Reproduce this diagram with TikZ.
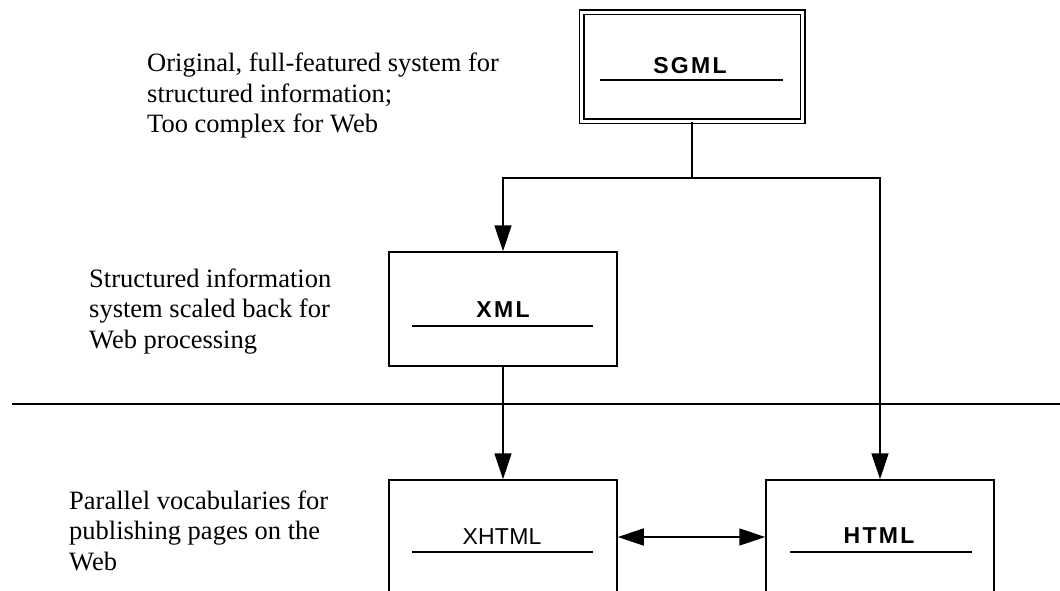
\documentclass[tikz,border=0pt]{standalone}
\usepackage{fontspec}
\setmainfont{Liberation Serif}
\newfontfamily\labelfont{Liberation Sans}
\usetikzlibrary{arrows.meta}

\tikzset{
  px/.style={x=1pt,y=-1pt},
  box/.style={draw, line width=1.5pt, minimum width=228pt, minimum height=114pt, inner sep=0pt},
  dbox/.style={draw, double, double distance=3pt, line width=1.5pt, minimum width=221pt, minimum height=109pt, inner sep=0pt},
  boldtitle/.style={font=\labelfont\fontsize{23}{25}\selectfont\bfseries\addfontfeatures{LetterSpace=10}, inner sep=0pt},
  plaintitle/.style={font=\labelfont\fontsize{23}{25}\selectfont\addfontfeatures{LetterSpace=1}, inner sep=0pt},
  notetext/.style={font=\fontsize{26.5}{30.5}\selectfont, align=left, anchor=base west, inner sep=0pt},
  underline/.style={line width=1.5pt},
  link/.style={line width=1.5pt},
  tip/.style={Triangle[length=26pt,width=17pt]},
  arr/.style={line width=1.5pt, -{Triangle[length=26pt,width=17pt]}},
  darr/.style={line width=1.5pt, {Triangle[length=26pt,width=17pt]}-{Triangle[length=26pt,width=17pt]}}
}

\begin{document}
\begin{tikzpicture}[px]
\clip (0,0) rectangle (1060,591);
\fill[white] (0,0) rectangle (1060,591);

% boxes
\node[dbox] (sgml) at (692,67) {};
\node[box] (xml) at (503,309) {};
\node[box] (xhtml) at (503,537) {};
\node[box] (html) at (880,537) {};

% box titles with their underlines
\node[boldtitle] (sgmlt) at (690,66) {SGML};
\draw[underline] (600,80) -- (783,80);
\node[boldtitle] (xmlt) at (503,310) {XML};
\draw[underline] (412,326) -- (593,326);
\node[plaintitle] (xhtmlt) at (502,537) {XHTML};
\draw[underline] (412,552) -- (593,552);
\node[boldtitle] (htmlt) at (879,536) {HTML};
\draw[underline] (790,552) -- (972,552);

% separator
\draw[underline] (12,404) -- (1060,404);

% connectors
\coordinate (split) at (692,178);
\draw[link] (sgml.south) -- (split);
\draw[arr] (split) -| (xml.north);
\draw[arr] (split) -| (html.north);
\draw[arr] (xml.south) -- (xhtml.north);
\draw[darr] (xhtml.east) -- (html.west);

% notes (anchored at the baseline of their last line)
\node[notetext] (n1) at (147,133) {Original, full-featured system for\\structured information;\\Too complex for Web};
\node[notetext] (n2) at (89,348) {Structured information\\system scaled back for\\Web processing};
\node[notetext] (n3) at (69,570) {Parallel vocabularies for\\publishing pages on the\\Web};
\end{tikzpicture}
\end{document}
